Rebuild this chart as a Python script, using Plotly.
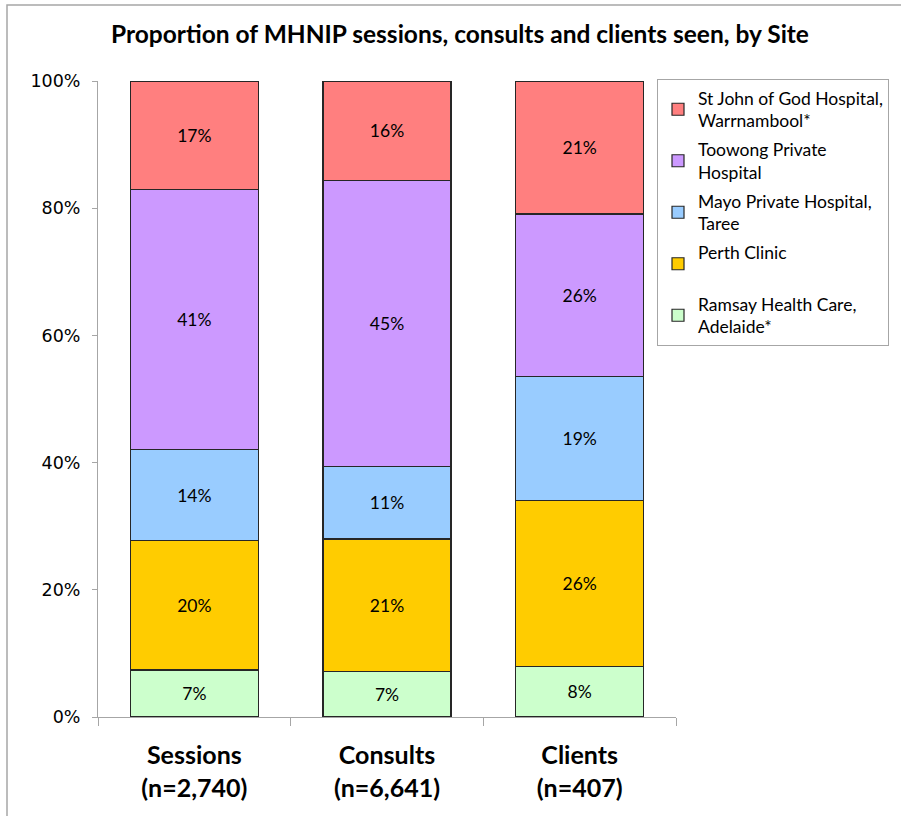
import plotly.graph_objects as go

categories = ["<b>Sessions</b><br><b>(n=2,740)</b>", "<b>Consults</b><br><b>(n=6,641)</b>", "<b>Clients</b><br><b>(n=407)</b>"]

ramsay = [7.4, 7.1, 7.9]
perth = [20.3, 20.9, 26.2]
mayo = [14.4, 11.4, 19.4]
toowong = [40.8, 45.0, 25.6]
stjohn = [17.1, 15.6, 20.9]

series_names = [
    "Ramsay Health Care,<br>Adelaide*",
    "Perth Clinic<br> ",
    "Mayo Private Hospital,<br>Taree",
    "Toowong Private<br>Hospital",
    "St John of God Hospital,<br>Warrnambool*",
]
series_values = [ramsay, perth, mayo, toowong, stjohn]
colors = ["#CCFFCC", "#FFCC00", "#99CCFF", "#CC99FF", "#FF7F7F"]

fig = go.Figure()
n = len(series_names)
for i, (name, vals, col) in enumerate(zip(series_names, series_values, colors)):
    fig.add_trace(go.Bar(
        x=categories, y=vals, name=name, legendgroup=f"g{i}",
        legendrank=1000 + (n - i) * 10,
        marker=dict(color=col, line=dict(color="#262626", width=1.2)),
        text=[f"{round(v)}%" for v in vals],
        textposition="inside", insidetextanchor="middle",
        textfont=dict(family="Lato", size=17.5, color="#000000"),
        hoverinfo="skip",
    ))

W, H = 901, 816
L, R, T, B = 98, 225, 81, 99
pw, ph = W - L - R, H - T - B

def px_x(x):
    return (x - L) / pw

def px_y(y):
    return (H - B - y) / ph

fig.update_layout(
    width=W, height=H,
    barmode="stack", bargap=0.335,
    margin=dict(l=L, r=R, t=T, b=B, autoexpand=False),
    paper_bgcolor="white", plot_bgcolor="white",
    title=dict(text="<b>Proportion of MHNIP sessions, consults and clients seen, by Site</b>",
               x=(460 - L) / pw, xref="paper", xanchor="center", y=1 - 34 / H, yanchor="middle",
               font=dict(family="Lato", size=24.5, color="#000000")),
    showlegend=True,
    legend=dict(traceorder="grouped", x=px_x(657), xanchor="left", y=px_y(79), yanchor="top",
                bordercolor="#A6A6A6", borderwidth=1, bgcolor="white",
                font=dict(family="Lato", size=17.5, color="#000000"),
                itemclick=False, tracegroupgap=3, itemwidth=30),
    xaxis=dict(showline=True, linecolor="#A6A6A6", linewidth=1, ticks="outside",
               tickson="boundaries", ticklen=8, tickcolor="#A6A6A6",
               ticklabelstandoff=16,
               tickfont=dict(family="Lato", size=25, color="#000000"),
               showgrid=False, zeroline=False, fixedrange=True),
    yaxis=dict(range=[0, 100], tickvals=[0, 20, 40, 60, 80, 100],
               ticktext=["0%", "20%", "40%", "60%", "80%", "100%"],
               showline=True, linecolor="#A6A6A6", linewidth=1, ticks="outside",
               ticklen=5, tickcolor="#A6A6A6", ticklabelstandoff=8,
               tickfont=dict(family="DejaVu Sans", size=17.5, color="#000000"),
               showgrid=False, zeroline=False, fixedrange=True),
    shapes=[dict(type="rect", xref="paper", yref="paper",
                 x0=px_x(7), x1=px_x(W + 20), y0=px_y(H + 20), y1=px_y(5),
                 line=dict(color="#A6A6A6", width=1.5), fillcolor="rgba(0,0,0,0)", layer="below")],
)

fig.write_html("out.html", config={"displayModeBar": False},
               post_script="document.body.style.margin='0';document.body.style.overflow='hidden';")
